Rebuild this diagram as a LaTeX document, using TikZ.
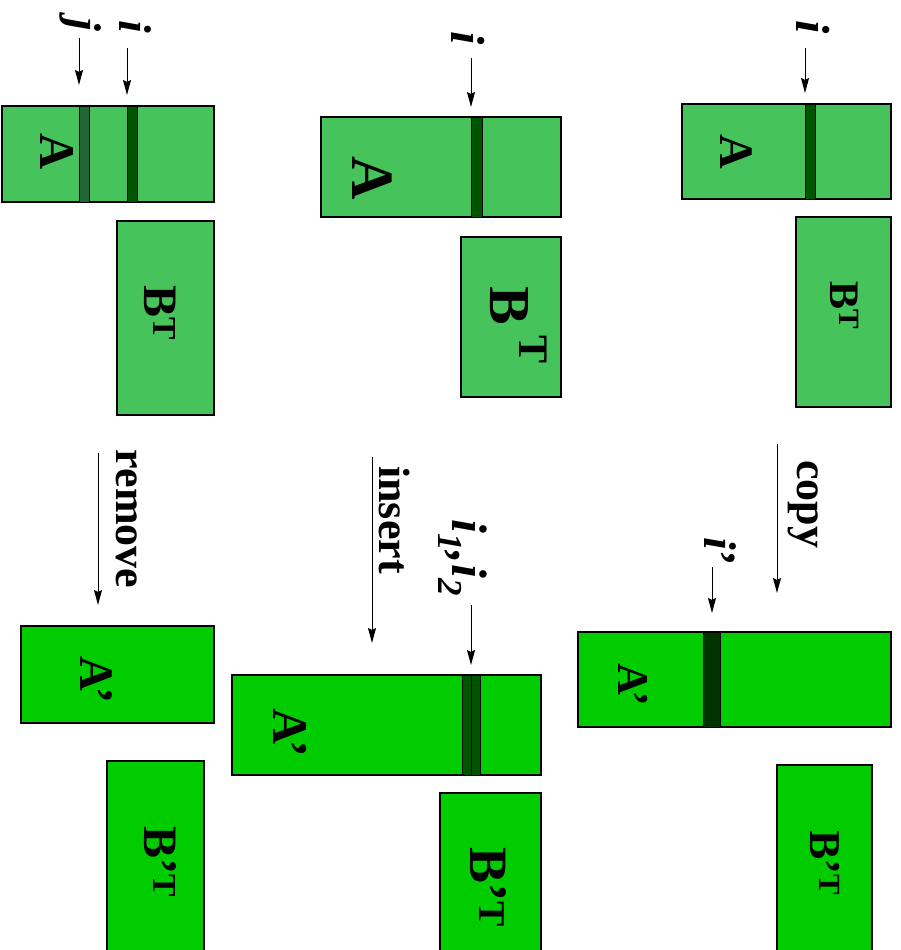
\documentclass[tikz,border=0pt]{standalone}
\usepackage{fontspec}
\setmainfont{Liberation Serif}
\definecolor{oldgreen}{RGB}{70,195,90}
\definecolor{newgreen}{RGB}{0,204,0}
\definecolor{stripe}{RGB}{0,85,0}
\definecolor{stripetwo}{RGB}{34,102,51}
\definecolor{stripenew}{RGB}{0,51,0}
\usetikzlibrary{arrows.meta,positioning}
\newcommand{\fs}[1]{\fontsize{#1}{#1}\selectfont\bfseries}

\begin{document}
\begin{tikzpicture}[x=1pt, y=-1pt,
  bx/.style={draw, line width=1.5pt, inner sep=0pt, fill=oldgreen},
  nbx/.style={bx, fill=newgreen},
  strp/.style={draw, line width=0.6pt, inner sep=0pt, fill=stripe},
  lbl/.style={rotate=-90, inner sep=0pt},
  arr/.style={-{Stealth[length=15pt,width=8pt,inset=2pt]}, line width=1pt}]
\clip (0,0) rectangle (901,950);
% Copy (right)
\node[bx, minimum width=209, minimum height=95] (a1) at (786.5,151.5) {};
\node[strp, minimum width=10, minimum height=95] (s1) at (810,151.5) {};
\node[lbl, font=\fs{48}] (la1) at (736,152) {A};
\node[lbl, font=\fs{48}] (i1) at (813,27) {\textit{i}};
\node[bx, minimum width=95, minimum height=190] (b1) at (843.5,312) {};
\node[lbl, font=\fs{42}] (lb1) at (845,306) {B\textsuperscript{T}};
\node[lbl, font=\fs{44}] (copy) at (803,504) {copy};
\node[lbl, font=\fs{46}] (ip) at (720,552) {\textit{i}’};
\node[nbx, minimum width=313, minimum height=95] (na1) at (734.5,679.5) {};
\node[strp, fill=stripenew, minimum width=17, minimum height=95] (ns1) at (711.5,679.5) {};
\node[lbl, font=\fs{44}] (lna1) at (633,685) {A’};
\node[nbx, minimum width=95, minimum height=200] (nb1) at (824.5,865) {};
\node[lbl, font=\fs{44}] (lnb1) at (825,863) {B’\textsuperscript{T}};
% Insert (middle)
\node[bx, minimum width=240, minimum height=100] (a2) at (441,167) {};
\node[strp, minimum width=11, minimum height=100] (s2) at (476.5,167) {};
\node[lbl, font=\fs{60}] (la2) at (372,178) {A};
\node[lbl, font=\fs{48}] (i2) at (468,38) {\textit{i}};
\node[bx, minimum width=100, minimum height=160] (b2) at (511,317) {};
\node[lbl, font=\fs{58}] (lb2) at (519,325) {B\,\raisebox{0.5em}{\fs{42}T}};
\node[lbl, font=\fs{44}] (insert) at (395,520) {insert};
\node[lbl, font=\fs{50}] (i12) at (463,558) {\textit{i\textsubscript{1},i\textsubscript{2}}};
\node[nbx, minimum width=309, minimum height=100] (na2) at (386.5,725) {};
\node[strp, minimum width=9, minimum height=100] (ns2a) at (466.5,725) {};
\node[strp, minimum width=9, minimum height=100] (ns2b) at (476,725) {};
\node[lbl, font=\fs{50}] (lna2) at (290,733) {A’};
\node[nbx, minimum width=101, minimum height=170] (nb2) at (490.5,878) {};
\node[lbl, font=\fs{54}] (lnb2) at (488,887) {B’\textsuperscript{T}};
% Remove (left)
\node[bx, minimum width=212, minimum height=96] (a3) at (108,154) {};
\node[strp, fill=stripetwo, minimum width=10, minimum height=96] (sj) at (84,154) {};
\node[strp, minimum width=10, minimum height=96] (si) at (132,154) {};
\node[lbl, font=\fs{50}] (la3) at (57,152) {A};
\node[lbl, font=\fs{46}] (j3) at (81,25) {\textit{j}};
\node[lbl, font=\fs{46}] (i3) at (135,27) {\textit{i}};
\node[bx, minimum width=97, minimum height=194] (b3) at (165.5,318) {};
\node[lbl, font=\fs{48}] (lb3) at (160,313) {B\textsuperscript{T}};
\node[lbl, font=\fs{44}] (remove) at (127,519) {remove};
\node[nbx, minimum width=193, minimum height=97] (na3) at (117.5,674.5) {};
\node[lbl, font=\fs{48}] (lna3) at (96,680) {A’};
\node[nbx, minimum width=97, minimum height=200] (nb3) at (155.5,861) {};
\node[lbl, font=\fs{48}] (lnb3) at (160,862) {B’\textsuperscript{T}};
% Arrow ends
\coordinate (i1s) at (805,48);   \coordinate (i1e) at (805,93);
\coordinate (c1s) at (777,444);  \coordinate (c1e) at (777,593);
\coordinate (ips) at (712,567);  \coordinate (ipe) at (712,613);
\coordinate (i2s) at (471,58);   \coordinate (i2e) at (471,107);
\coordinate (c2s) at (372,457);  \coordinate (c2e) at (372,643);
\coordinate (i12s) at (471,605); \coordinate (i12e) at (471,665);
\coordinate (j3s) at (79,38);    \coordinate (j3e) at (79,85);
\coordinate (i3s) at (127,48);   \coordinate (i3e) at (127,95);
\coordinate (c3s) at (98,453);   \coordinate (c3e) at (98,605);
% Arrows
\draw[arr] (i1s) -- (i1e);
\draw[arr] (c1s) -- (c1e);
\draw[arr] (ips) -- (ipe);
\draw[arr] (i2s) -- (i2e);
\draw[arr] (c2s) -- (c2e);
\draw[arr] (i12s) -- (i12e);
\draw[arr] (j3s) -- (j3e);
\draw[arr] (i3s) -- (i3e);
\draw[arr] (c3s) -- (c3e);
\end{tikzpicture}
\end{document}
